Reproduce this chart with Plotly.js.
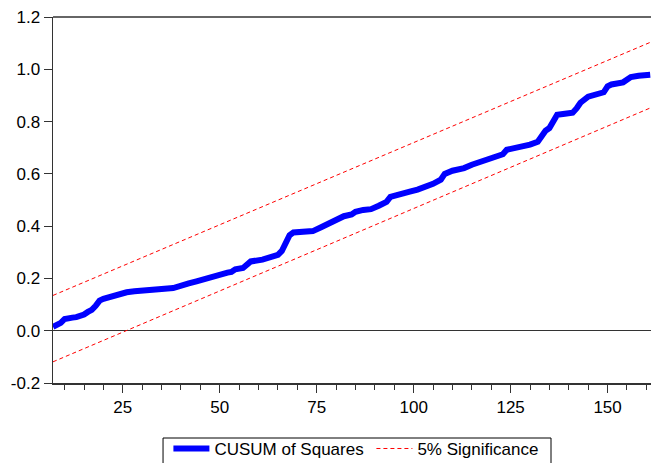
<!DOCTYPE html>
<html>
<head>
<meta charset="utf-8">
<script src="https://cdn.plot.ly/plotly-3.0.1.min.js"></script>
<style>html,body{margin:0;padding:0;background:#fff;}#chart{width:651px;height:463px;}</style>
</head>
<body>
<div id="chart"></div>
<script>
// CUSUM of Squares
const obs = [7,8,9,10,11,12,13,14,15,16,17,18,19,20,22,24,26,28,30,32,35,38,39,40,42,44,46,48,50,52,53,54,56,57,58,61,64,65,66,67,68,69,71,74,76,78,80,82,84,85,87,89,91,93,94,96,99,101,103,105,107,108,110,113,115,117,119,121,123,124,126,128,130,132,133,134,135,136,137,139,141,142,143,145,147,149,150,151,154,156,158,161];
const cusumSq = [0.015,0.02,0.03,0.045,0.05,0.05,0.052,0.055,0.062,0.072,0.08,0.095,0.115,0.122,0.132,0.14,0.147,0.151,0.155,0.157,0.16,0.163,0.168,0.176,0.181,0.189,0.198,0.21,0.217,0.222,0.225,0.235,0.24,0.255,0.265,0.272,0.282,0.29,0.305,0.33,0.365,0.376,0.379,0.381,0.395,0.41,0.425,0.438,0.445,0.455,0.462,0.465,0.478,0.493,0.512,0.522,0.532,0.54,0.55,0.562,0.578,0.6,0.612,0.622,0.635,0.645,0.655,0.665,0.675,0.692,0.698,0.705,0.712,0.723,0.745,0.765,0.775,0.805,0.826,0.83,0.834,0.85,0.872,0.895,0.905,0.912,0.935,0.942,0.95,0.97,0.975,0.979];
const bandX = [7,161];
const upperBand = [0.135,1.103];
const lowerBand = [-0.119,0.852];
const yTickVals = [-0.2,0.0,0.2,0.4,0.6,0.8,1.0,1.2];
const yTickText = ["-0.2","0.0","0.2","0.4","0.6","0.8","1.0","1.2"];

const font = {family:"Liberation Sans, Arial, sans-serif", size:17, color:"#000"};

const traces = [
  {x: obs, y: cusumSq, type:"scatter", mode:"lines", name:"CUSUM of Squares",
   line:{color:"#0000FF", width:6}},
  {x: bandX, y: upperBand, type:"scatter", mode:"lines", name:"5% Significance",
   line:{color:"#FF0000", width:1, dash:"4px,3px"}},
  {x: bandX, y: lowerBand, type:"scatter", mode:"lines", name:"5% Significance",
   line:{color:"#FF0000", width:1, dash:"4px,3px"}, showlegend:false}
];

const layout = {
  width:651, height:463,
  margin:{l:53, r:0, t:17, b:80, autoexpand:false},
  paper_bgcolor:"#fff", plot_bgcolor:"#fff",
  font: font,
  showlegend:true,
  legend:{orientation:"h", x:0.193, xanchor:"left", y:-0.131, yanchor:"top",
          bgcolor:"rgba(0,0,0,0)", borderwidth:0, font:font, traceorder:"normal",
          itemwidth:36, entrywidth:152, entrywidthmode:"pixels"},
  xaxis:{range:[7,161.2], showgrid:false, zeroline:false, automargin:false,
         showline:true, linecolor:"#333", linewidth:1.5, mirror:false,
         ticks:"outside", tickmode:"linear", tick0:0, dtick:25, ticklen:8, tickcolor:"#333",
         minor:{dtick:5, tick0:0, ticks:"outside", ticklen:5, tickcolor:"#333"},
         tickfont:font},
  yaxis:{range:[-0.2,1.2], showgrid:false, zeroline:true, zerolinecolor:"#333", zerolinewidth:1,
         showline:true, linecolor:"#333", linewidth:1.5, automargin:false,
         ticks:"outside", ticklen:8, tickcolor:"#333",
         tickmode:"array", tickvals:yTickVals, ticktext:yTickText, tickfont:font},
  shapes:[
    {type:"line", xref:"paper", yref:"paper", x0:0, x1:1, y0:1, y1:1,
     line:{color:"#333", width:1.5}},
    {type:"rect", xref:"paper", yref:"paper", x0:0.184, x1:0.8328, y0:-0.1503, y1:-0.26,
     line:{color:"#000", width:1}, fillcolor:"rgba(0,0,0,0)"}
  ]
};

Plotly.newPlot("chart", traces, layout, {displayModeBar:false, staticPlot:true});
</script>
</body>
</html>
